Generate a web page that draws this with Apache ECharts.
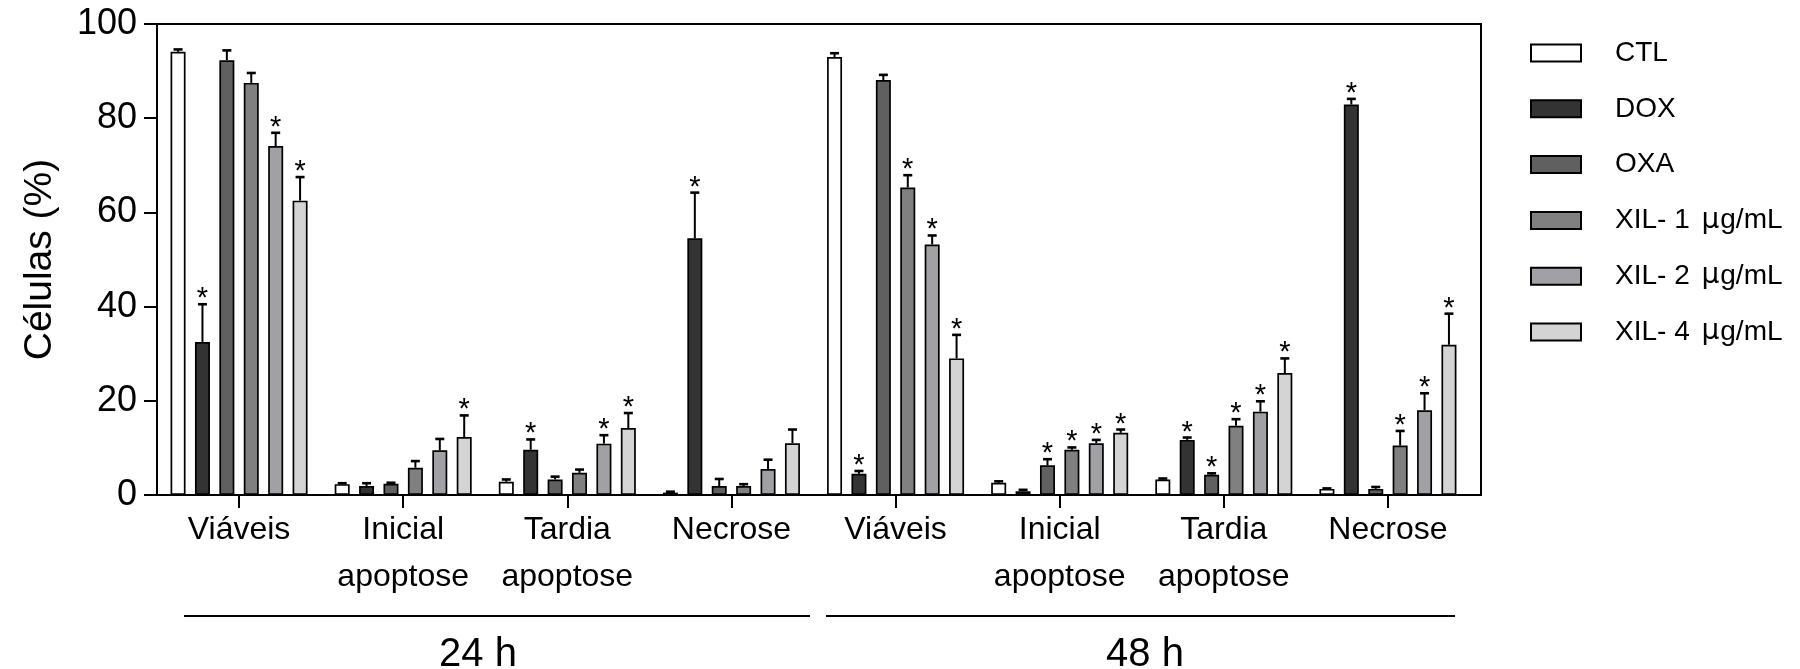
<!DOCTYPE html>
<html>
<head>
<meta charset="utf-8">
<script src="https://cdn.jsdelivr.net/npm/echarts@6/dist/echarts.min.js"></script>
<style>
  html, body { margin: 0; padding: 0; background: #fff; }
  #chart { width: 1800px; height: 669px; }
</style>
</head>
<body>
<div id="chart"></div>
<script>
// ---- data ----
const categories = ['Viáveis', 'Inicial\napoptose', 'Tardia\napoptose', 'Necrose',
                    'Viáveis', 'Inicial\napoptose', 'Tardia\napoptose', 'Necrose'];
const seriesNames = ['CTL', 'DOX', 'OXA', 'XIL- 1 μg/mL', 'XIL- 2 μg/mL', 'XIL- 4 μg/mL'];
const groupLabels = ['24 h', '48 h'];
const yTicks = [0, 20, 40, 60, 80, 100];

const ctl   = [94.1, 2.3, 2.8, 0.5, 93.0, 2.6, 3.3, 1.3];
const ctlSd = [0.5, 0.2, 0.5, 0.2, 0.8, 0.3, 0.2, 0.1];
const dox   = [32.5, 1.9, 9.6, 54.5, 4.5, 0.8, 11.7, 82.9];
const doxSd = [8.0, 0.6, 2.2, 9.7, 0.6, 0.3, 0.5, 1.2];
const oxa   = [92.3, 2.4, 3.3, 1.9, 88.1, 6.3, 4.3, 1.3];
const oxaSd = [2.1, 0.2, 0.6, 1.5, 1.1, 1.3, 0.3, 0.4];
const xil1   = [87.5, 5.8, 4.7, 1.9, 65.3, 9.6, 14.7, 10.5];
const xil1Sd = [2.1, 1.4, 0.7, 0.4, 2.6, 0.5, 1.4, 3.1];
const xil2   = [74.1, 9.5, 10.9, 5.5, 53.2, 11.0, 17.7, 18.0];
const xil2Sd = [2.8, 2.4, 1.8, 2.0, 1.9, 0.7, 2.2, 3.6];
const xil4   = [62.5, 12.3, 14.2, 11.0, 29.0, 13.2, 25.9, 31.9];
const xil4Sd = [5.0, 4.6, 3.2, 2.9, 5.0, 0.7, 3.1, 6.6];

// significance markers (1 = "*")
const ctlStar  = [0, 0, 0, 0, 0, 0, 0, 0];
const doxStar  = [1, 0, 1, 1, 1, 0, 1, 1];
const oxaStar  = [0, 0, 0, 0, 0, 1, 1, 0];
const xil1Star = [0, 0, 0, 0, 1, 1, 1, 1];
const xil2Star = [1, 0, 1, 0, 1, 1, 1, 1];
const xil4Star = [1, 1, 1, 0, 1, 1, 1, 1];

const values = [ctl, dox, oxa, xil1, xil2, xil4];
const sds = [ctlSd, doxSd, oxaSd, xil1Sd, xil2Sd, xil4Sd];
const stars = [ctlStar, doxStar, oxaStar, xil1Star, xil2Star, xil4Star];
const colors = ['#ffffff', '#333333', '#606060', '#808080', '#a1a1a5', '#d4d4d4'];

// ---- style ----
const FONT = "'Liberation Sans', Arial, Helvetica, sans-serif";
const BAR_W = 15;
const BAR_GAP = 0.627;
const N = seriesNames.length;

const chart = echarts.init(document.getElementById('chart'), null, { renderer: 'canvas' });

const series = [];
values.forEach((vals, si) => {
  series.push({
    name: seriesNames[si],
    type: 'bar',
    xAxisIndex: 1,
    yAxisIndex: 1,
    data: vals,
    barWidth: BAR_W,
    barGap: (BAR_GAP * 100) + '%',
    itemStyle: { color: colors[si], borderColor: '#000', borderWidth: 1.7 },
    emphasis: { disabled: true },
    z: 2
  });
});
values.forEach((vals, si) => {
  series.push({
    name: seriesNames[si] + ' err',
    type: 'custom',
    xAxisIndex: 1,
    yAxisIndex: 1,
    silent: true,
    z: 5,
    data: vals.map((v, i) => [i, v, v + sds[si][i], stars[si][i]]),
    encode: { x: 0, y: [1, 2] },
    renderItem: function (params, api) {
      const i = api.value(0);
      const base = api.coord([i, api.value(1)]);
      const top = api.coord([i, api.value(2)]);
      const off = (si - (N - 1) / 2) * BAR_W * (1 + BAR_GAP);
      const x = base[0] + off;
      const children = [
        { type: 'line', shape: { x1: x, y1: base[1], x2: x, y2: top[1] },
          style: { stroke: '#000', lineWidth: 2 } },
        { type: 'line', shape: { x1: x - 4.5, y1: top[1], x2: x + 4.5, y2: top[1] },
          style: { stroke: '#000', lineWidth: 2.6 } }
      ];
      if (api.value(3)) {
        children.push({ type: 'text', style: {
          text: '*', x: x, y: top[1] - 5, align: 'center', verticalAlign: 'middle',
          font: '29px ' + FONT, fill: '#000' } });
      }
      return { type: 'group', children: children };
    }
  });
});

const option = {
  animation: false,
  backgroundColor: '#fff',
  textStyle: { fontFamily: FONT, color: '#000' },
  grid: [
    { left: 157, right: 319, top: 24, bottom: 174, show: true,
      borderColor: '#000', borderWidth: 2, backgroundColor: 'transparent' },
    { left: 157, right: 330, top: 24, bottom: 174 }
  ],
  legend: {
    data: seriesNames,
    orient: 'vertical',
    left: 1530,
    top: 39,
    padding: 0,
    icon: 'rect',
    itemWidth: 50,
    itemHeight: 17,
    itemGap: 27.8,
    selectedMode: false,
    formatter: function (name) { return name.replace('μ', '{mu|μ}'); },
    textStyle: { fontFamily: FONT, fontSize: 28, color: '#000',
                 padding: [0, 0, 0, 29],
                 rich: { mu: { fontFamily: "'DejaVu Sans', sans-serif", fontSize: 28, color: '#000', padding: [0, 1, 0, 4] } } }
  },
  xAxis: [
    { gridIndex: 0, type: 'value', show: false, min: 0, max: 1 },
    { gridIndex: 1, type: 'category', data: categories,
      axisLine: { lineStyle: { color: '#000', width: 2 } },
      axisTick: { show: true, alignWithLabel: true, length: 13, lineStyle: { color: '#000', width: 2 } },
      axisLabel: { fontFamily: FONT, fontSize: 32, color: '#000', lineHeight: 47, margin: 12, interval: 0 }
    }
  ],
  yAxis: [
    { gridIndex: 0, type: 'value', show: false, min: 0, max: 1 },
    { gridIndex: 1, type: 'value', min: yTicks[0], max: yTicks[yTicks.length - 1],
      interval: yTicks[1] - yTicks[0],
      name: 'Células (%)', nameLocation: 'middle', nameGap: 97,
      nameTextStyle: { fontFamily: FONT, fontSize: 39, color: '#000' },
      axisLine: { show: true, lineStyle: { color: '#000', width: 2 } },
      axisTick: { show: true, length: 13, lineStyle: { color: '#000', width: 2 } },
      axisLabel: { fontFamily: FONT, fontSize: 36, color: '#000', margin: 20 },
      splitLine: { show: false }
    }
  ],
  graphic: [
    { type: 'line', shape: { x1: 184, y1: 616, x2: 810, y2: 616 }, style: { stroke: '#000', lineWidth: 2 } },
    { type: 'line', shape: { x1: 826, y1: 616, x2: 1455, y2: 616 }, style: { stroke: '#000', lineWidth: 2 } },
    { type: 'text', x: 478, y: 655, style: { text: groupLabels[0], font: '40px ' + FONT, fill: '#000', align: 'center', verticalAlign: 'middle' } },
    { type: 'text', x: 1145, y: 655, style: { text: groupLabels[1], font: '40px ' + FONT, fill: '#000', align: 'center', verticalAlign: 'middle' } }
  ],
  series: series
};

chart.setOption(option);
</script>
</body>
</html>
